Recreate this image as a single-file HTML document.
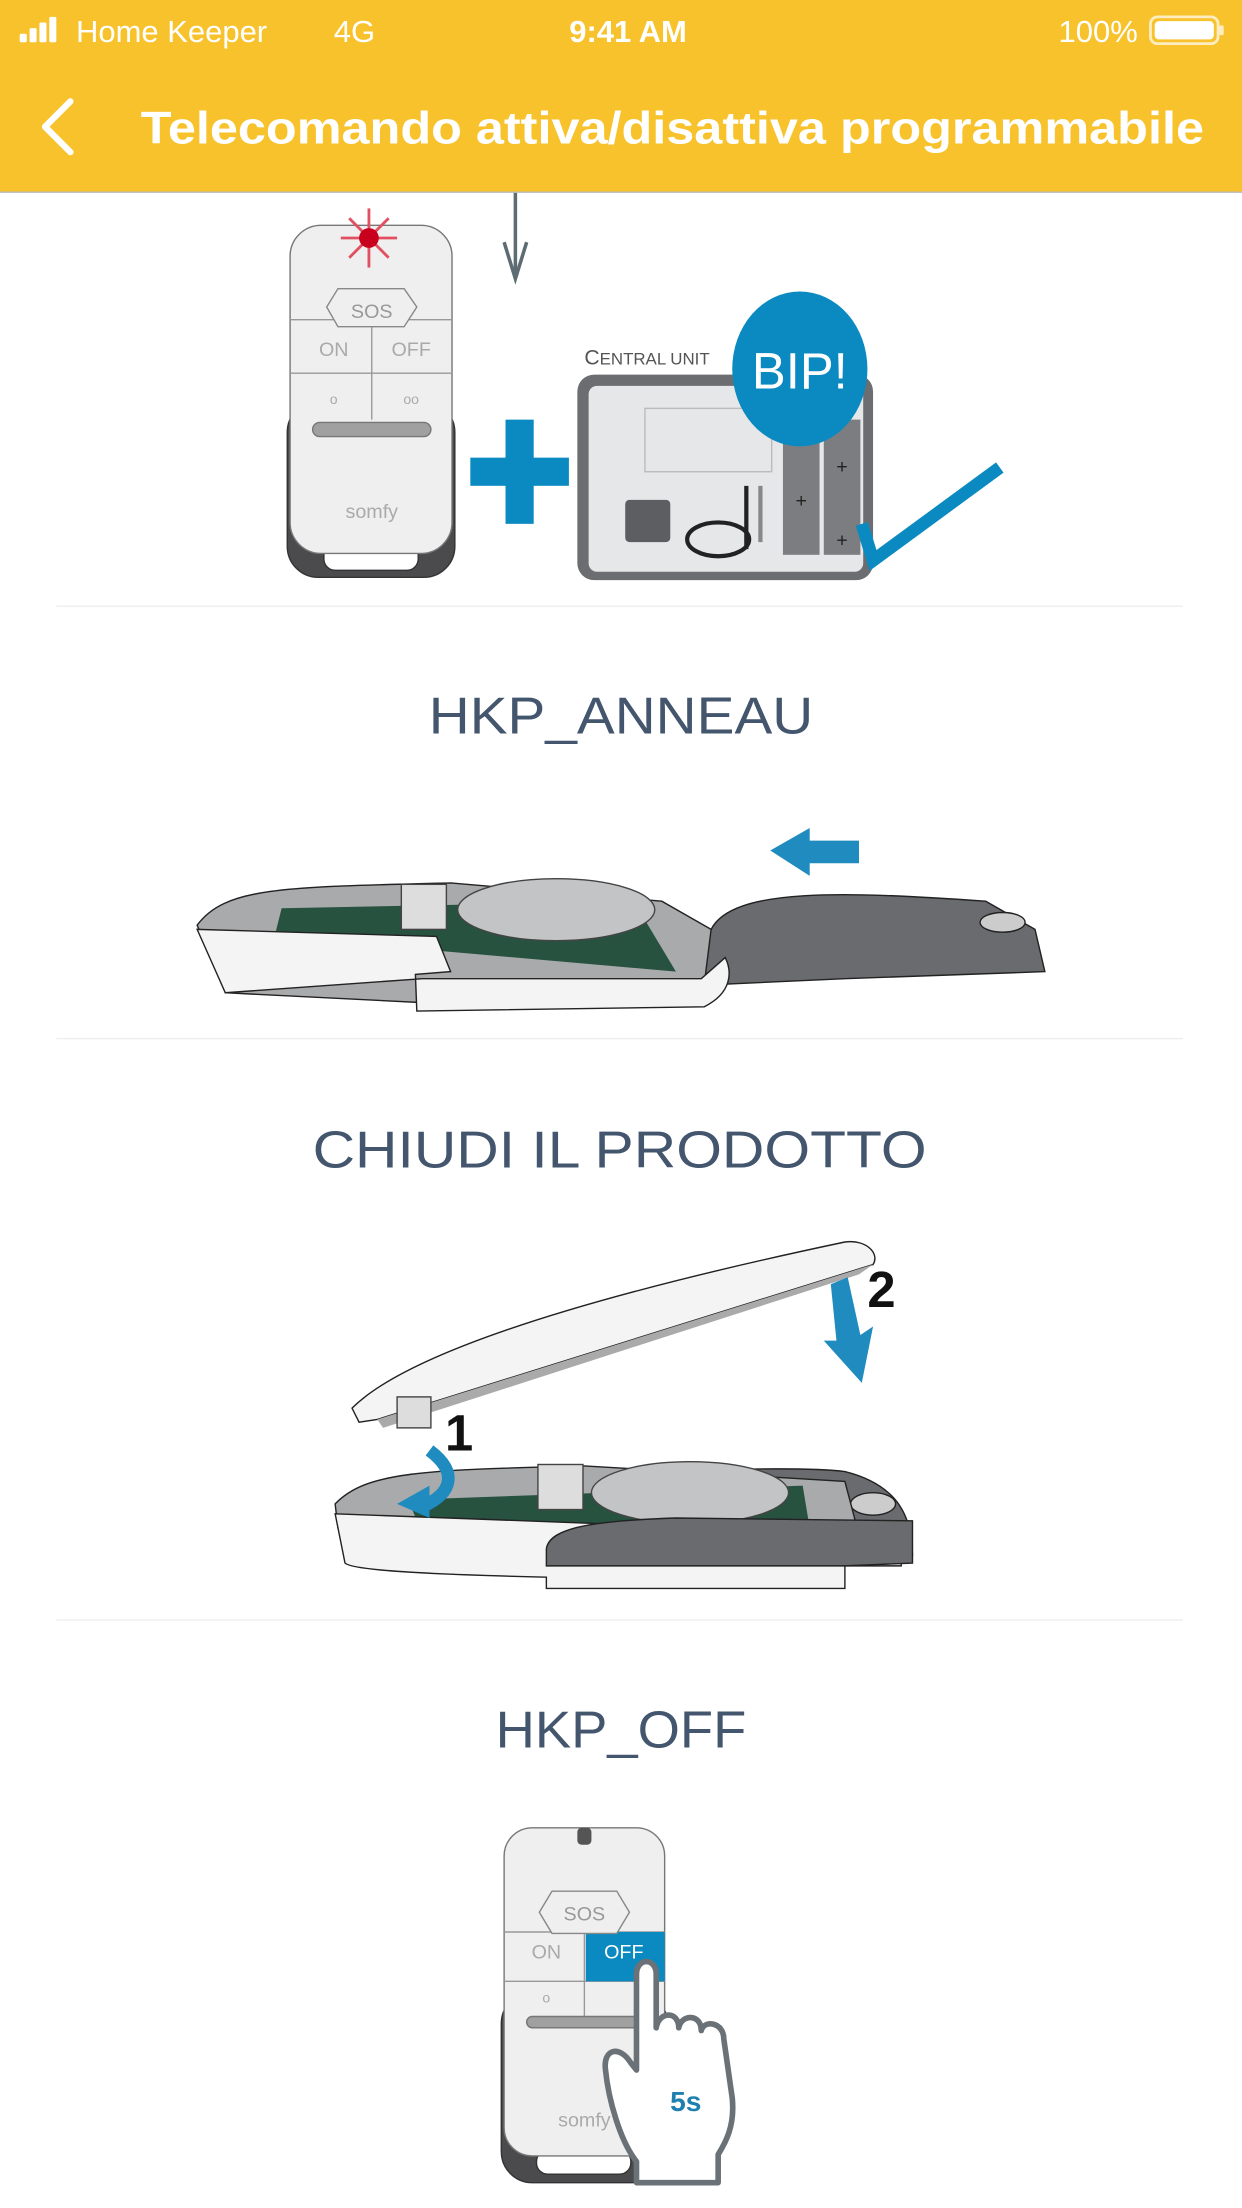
<!DOCTYPE html>
<html><head><meta charset="utf-8"><style>
html,body{margin:0;padding:0;background:#fff;}
svg{display:block;}
</style></head><body>
<svg width="1242" height="2208" viewBox="0 0 882 1568" xmlns="http://www.w3.org/2000/svg" font-family="Liberation Sans, sans-serif">
<rect width="882" height="1568" fill="#fff"/>
<!-- header -->
<rect width="882" height="136" fill="#F8C22C"/>
<line x1="0" y1="136.5" x2="882" y2="136.5" stroke="#b8b8b8" stroke-width="1"/>
<g fill="#fff">
<rect x="14" y="24" width="5" height="6" rx="1"/><rect x="21" y="20" width="5" height="10" rx="1"/><rect x="28" y="16" width="5" height="14" rx="1"/><rect x="35" y="12" width="5" height="18" rx="1"/>
</g>
<text x="54" y="30" font-size="22" fill="#fff">Home Keeper</text>
<text x="237" y="30" font-size="22" fill="#fff">4G</text>
<text x="446" y="30" font-size="22" font-weight="bold" fill="#fff" text-anchor="middle">9:41 AM</text>
<text x="808" y="30" font-size="22" fill="#fff" text-anchor="end">100%</text>
<rect x="817" y="12" width="48" height="19" rx="5" fill="none" stroke="#fff" stroke-width="2" opacity="0.7"/>
<rect x="820" y="15" width="42" height="13" rx="3" fill="#fff"/>
<rect x="866" y="18" width="3" height="7" rx="1" fill="#fff" opacity="0.7"/>
<polyline points="50,72 32,90 50,108" fill="none" stroke="#fff" stroke-width="4.5" stroke-linecap="round" stroke-linejoin="round"/>
<text x="100" y="102" font-size="32" font-weight="bold" fill="#fff" textLength="755" lengthAdjust="spacingAndGlyphs">Telecomando attiva/disattiva programmabile</text>

<!-- section 1 image -->
<line x1="366" y1="137" x2="366" y2="196" stroke="#5d6b72" stroke-width="2.5"/>
<polyline points="358,172 366,198 374,172" fill="none" stroke="#5d6b72" stroke-width="2.5"/>
<!-- remote 1 -->
<rect x="204" y="285" width="119" height="125" rx="22" fill="#4b4b4d" stroke="#333" stroke-width="1"/>
<rect x="230" y="386" width="67" height="19" rx="8" fill="#fff" stroke="#333"/>
<rect x="206" y="160" width="115" height="233" rx="22" fill="#efeff0" stroke="#777" stroke-width="1"/>
<line x1="206" y1="227" x2="321" y2="227" stroke="#999"/>
<line x1="206" y1="265" x2="321" y2="265" stroke="#999"/>
<line x1="264" y1="227" x2="264" y2="298" stroke="#999"/>
<polygon points="240,205 287,205 296,218 287,232 240,232 232,218" fill="#efeff0" stroke="#888"/>
<text x="264" y="226" font-size="14" fill="#999" text-anchor="middle">SOS</text>
<text x="237" y="253" font-size="14" fill="#aaa" text-anchor="middle">ON</text>
<text x="292" y="253" font-size="14" fill="#aaa" text-anchor="middle">OFF</text>
<text x="237" y="287" font-size="10" fill="#aaa" text-anchor="middle">o</text>
<text x="292" y="287" font-size="10" fill="#aaa" text-anchor="middle">oo</text>
<rect x="222" y="300" width="84" height="10" rx="5" fill="#a0a0a0" stroke="#777"/>
<text x="264" y="368" font-size="14" fill="#aaa" text-anchor="middle">somfy</text>
<g stroke="#e05060" stroke-width="2"><line x1="262" y1="148" x2="262" y2="190"/><line x1="242" y1="169" x2="282" y2="169"/><line x1="248" y1="155" x2="276" y2="183"/><line x1="276" y1="155" x2="248" y2="183"/></g>
<circle cx="262" cy="169" r="7" fill="#c8001e"/>
<!-- plus -->
<rect x="359" y="298" width="20" height="74" fill="#0a8ac0"/>
<rect x="334" y="325" width="70" height="20" fill="#0a8ac0"/>
<!-- central unit -->
<text x="415" y="259" font-size="15" fill="#555">C<tspan font-size="12">ENTRAL UNIT</tspan></text>
<rect x="410" y="266" width="210" height="146" rx="12" fill="#6b6d70"/>
<rect x="418" y="274" width="195" height="132" rx="6" fill="#e6e7e8"/>
<rect x="556" y="298" width="26" height="96" fill="#7c7d80"/>
<rect x="585" y="298" width="26" height="96" fill="#7c7d80"/>
<text x="569" y="360" font-size="14" fill="#222" text-anchor="middle">+</text>
<text x="598" y="336" font-size="14" fill="#222" text-anchor="middle">+</text>
<text x="598" y="388" font-size="14" fill="#222" text-anchor="middle">+</text>
<rect x="444" y="355" width="32" height="30" rx="3" fill="#5c5e61"/>
<ellipse cx="510" cy="383" rx="22" ry="12" fill="none" stroke="#222" stroke-width="3"/>
<line x1="530" y1="345" x2="530" y2="390" stroke="#222" stroke-width="3"/>
<line x1="540" y1="345" x2="540" y2="385" stroke="#888" stroke-width="3"/>
<rect x="458" y="290" width="90" height="45" fill="none" stroke="#bbb"/>
<ellipse cx="568" cy="262" rx="48" ry="55" fill="#0a8ac0"/>
<text x="568" y="276" font-size="36" fill="#fff" text-anchor="middle">BIP!</text>
<polyline points="612,372 620,398 710,332" fill="none" stroke="#0a8ac0" stroke-width="9"/>
<line x1="40" y1="430.5" x2="840" y2="430.5" stroke="#eee"/>

<!-- section 2 -->
<text x="441" y="521" font-size="37" fill="#44566e" text-anchor="middle" textLength="273" lengthAdjust="spacingAndGlyphs">HKP_ANNEAU</text>
<polygon points="547,604 575,588 575,597 610,597 610,613 575,613 575,622" fill="#1f8bbf"/>
<path d="M505,660 C520,630 600,633 700,640 L735,660 L742,690 L600,695 L490,700 Z" fill="#6a6b6e" stroke="#222"/>
<ellipse cx="712" cy="655" rx="16" ry="7" fill="#ccc" stroke="#222"/>
<path d="M140,657 C160,630 200,630 320,627 L470,640 L505,660 L500,700 C480,710 420,712 300,712 L160,705 Z" fill="#a9aaac" stroke="#222"/>
<polygon points="200,645 450,640 480,690 195,665" fill="#275240"/>
<ellipse cx="395" cy="646" rx="70" ry="22" fill="#c3c4c6" stroke="#444"/>
<rect x="285" y="628" width="32" height="32" fill="#ddd" stroke="#444"/>
<path d="M140,660 L310,665 L320,690 L295,692 L296,718 L500,715 C520,705 520,690 515,680 L498,695 L300,695 L160,705 Z" fill="#f4f4f4" stroke="#222"/>
<line x1="40" y1="737.5" x2="840" y2="737.5" stroke="#eee"/>

<!-- section 3 -->
<text x="440" y="829" font-size="37" fill="#44566e" text-anchor="middle" textLength="436" lengthAdjust="spacingAndGlyphs">CHIUDI IL PRODOTTO</text>
<path d="M250,1000 C290,960 420,920 600,882 C615,880 625,890 620,898 L268,1008 L255,1010 Z" fill="#f4f4f4" stroke="#222"/>
<polygon points="268,1008 620,898 610,905 272,1014" fill="#aaa"/>
<rect x="282" y="992" width="24" height="22" fill="#ddd" stroke="#444"/>
<path d="M385,1060 C400,1045 560,1040 600,1045 C640,1055 648,1080 648,1105 L600,1110 L390,1115 Z" fill="#6a6b6e" stroke="#222"/>
<ellipse cx="620" cy="1068" rx="16" ry="8" fill="#ccc" stroke="#222"/>
<path d="M238,1068 C260,1045 300,1044 415,1041 L600,1052 L610,1090 L400,1100 L240,1085 Z" fill="#a9aaac" stroke="#222"/>
<polygon points="290,1065 570,1055 575,1085 300,1090" fill="#275240"/>
<ellipse cx="490" cy="1060" rx="70" ry="22" fill="#c3c4c6" stroke="#444"/>
<rect x="382" y="1040" width="32" height="32" fill="#ddd" stroke="#444"/>
<path d="M238,1075 L640,1090 L640,1112 L600,1112 L600,1128 L388,1128 L388,1120 C300,1118 250,1115 245,1110 Z" fill="#f4f4f4" stroke="#222"/>
<path d="M388,1100 C390,1085 420,1080 480,1078 L648,1080 L648,1110 L600,1112 L388,1112 Z" fill="#6a6b6e" stroke="#222"/>
<path d="M305,1030 C325,1045 322,1060 300,1070" fill="none" stroke="#1f8bbf" stroke-width="9"/>
<polygon points="282,1068 305,1055 305,1078" fill="#1f8bbf"/>
<text x="326" y="1030" font-size="36" font-weight="bold" fill="#111" text-anchor="middle">1</text>
<text x="626" y="928" font-size="36" font-weight="bold" fill="#111" text-anchor="middle">2</text>
<polygon points="590,912 602,907 611,948 620,942 612,982 585,952 594,952" fill="#1f8bbf"/>
<line x1="40" y1="1150.5" x2="840" y2="1150.5" stroke="#eee"/>

<!-- section 4 -->
<text x="441" y="1241" font-size="37" fill="#44566e" text-anchor="middle" textLength="178" lengthAdjust="spacingAndGlyphs">HKP_OFF</text>
<rect x="356" y="1415" width="118" height="135" rx="22" fill="#4b4b4d" stroke="#333"/>
<rect x="381" y="1527" width="67" height="17" rx="8" fill="#fff" stroke="#333"/>
<rect x="358" y="1298" width="114" height="233" rx="20" fill="#efeff0" stroke="#777"/>
<rect x="410" y="1298" width="10" height="12" rx="3" fill="#555"/>
<line x1="358" y1="1372" x2="472" y2="1372" stroke="#999"/>
<line x1="358" y1="1407" x2="472" y2="1407" stroke="#999"/>
<line x1="415" y1="1372" x2="415" y2="1435" stroke="#999"/>
<rect x="416" y="1372" width="56" height="35" fill="#0a8ac0"/>
<polygon points="392,1343 438,1343 447,1358 438,1373 392,1373 383,1358" fill="#efeff0" stroke="#888"/>
<text x="415" y="1364" font-size="14" fill="#999" text-anchor="middle">SOS</text>
<text x="388" y="1391" font-size="14" fill="#aaa" text-anchor="middle">ON</text>
<text x="443" y="1391" font-size="14" fill="#fff" text-anchor="middle">OFF</text>
<text x="388" y="1422" font-size="10" fill="#aaa" text-anchor="middle">o</text>
<rect x="374" y="1432" width="82" height="8" rx="4" fill="#a0a0a0" stroke="#777"/>
<text x="415" y="1510" font-size="14" fill="#aaa" text-anchor="middle">somfy</text>
<path d="M452,1402 C452,1390 466,1390 466,1402 L466,1440 C468,1428 482,1428 482,1440 C484,1430 498,1430 498,1442 C500,1434 514,1436 514,1448 L520,1490 C522,1510 515,1522 510,1530 L510,1550 L452,1550 L452,1535 C440,1520 432,1490 430,1470 C428,1455 440,1452 448,1465 L452,1470 Z" fill="#fff" stroke="#6b7277" stroke-width="4" stroke-linejoin="round"/>
<text x="487" y="1499" font-size="20" font-weight="bold" fill="#1f7fb0" text-anchor="middle">5s</text>
</svg>
</body></html>
